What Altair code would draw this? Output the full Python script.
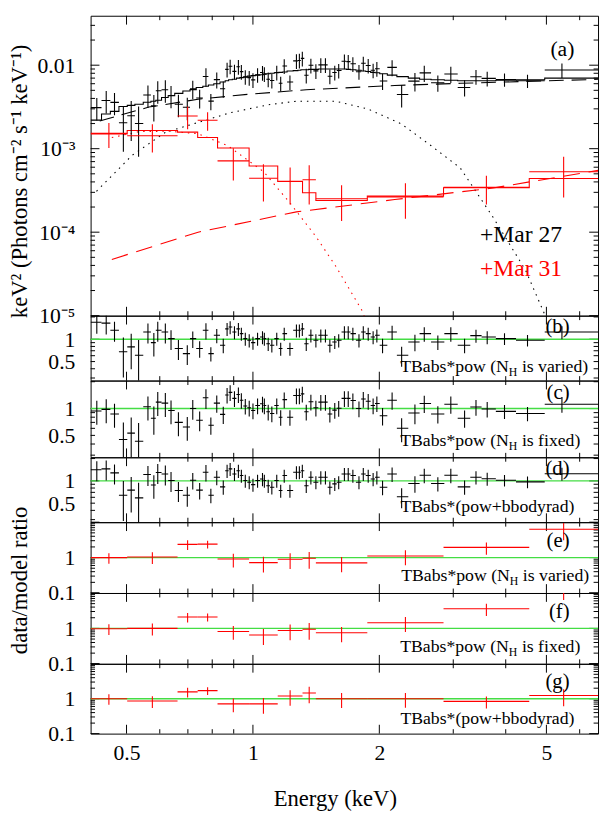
import math
import altair as alt
import pandas as pd

FONT = "'Liberation Serif', 'Times New Roman', Times, 'Nimbus Roman', serif"
XDOM = [0.4106, 6.636]
W = 516

# x ticks (keV)
XMAJ = [0.5, 1, 2, 5]
XMIN = [0.6, 0.7, 0.8, 0.9, 3, 4, 6]
XLAB = ["0.5", "1", "2", "5"]

# ---------------- Mar 27 (black) ----------------
bk_E = [0.4248, 0.4473, 0.4681, 0.4914, 0.5130, 0.5342, 0.5623, 0.5808, 0.5934, 0.6186,
        0.6382, 0.6646, 0.6977, 0.7190, 0.7467, 0.7729, 0.7940, 0.8201, 0.8499, 0.8679,
        0.8826, 0.9037, 0.9234, 0.9385, 0.9590, 0.9799, 1.0002, 1.0258, 1.0539, 1.0647,
        1.0874, 1.1093, 1.1396, 1.1645, 1.1873, 1.2250, 1.2694, 1.2901, 1.3111, 1.3397,
        1.3741, 1.4124, 1.4510, 1.4882, 1.5248, 1.5664, 1.6006, 1.6514, 1.6865, 1.7299,
        1.7887, 1.8316, 1.8817, 1.9331, 1.9731, 2.0358, 2.1452, 2.2604, 2.4312, 2.5590,
        2.7568, 2.9601, 3.1921, 3.3982, 3.6136, 3.9734, 4.5077, 5.4442]
bk_model = [2.2e-3, 2.6e-3, 2.8e-3, 3.2e-3, 3.3e-3, 3.4e-3, 3.6e-3, 3.7e-3, 3.8e-3, 4.1e-3,
            4.3e-3, 4.6e-3, 4.9e-3, 5.1e-3, 5.4e-3, 5.6e-3, 5.8e-3, 6.0e-3, 6.3e-3, 6.5e-3,
            6.7e-3, 6.8e-3, 7.0e-3, 7.1e-3, 7.2e-3, 7.4e-3, 7.5e-3, 7.6e-3, 7.7e-3, 7.8e-3,
            7.9e-3, 8.0e-3, 8.1e-3, 8.2e-3, 8.3e-3, 8.5e-3, 8.6e-3, 8.7e-3, 8.8e-3, 8.8e-3,
            8.9e-3, 8.9e-3, 9.0e-3, 9.0e-3, 9.0e-3, 9.0e-3, 9.0e-3, 9.0e-3, 8.9e-3, 8.8e-3,
            8.7e-3, 8.5e-3, 8.4e-3, 8.2e-3, 8.1e-3, 7.9e-3, 7.6e-3, 7.3e-3, 7.0e-3, 6.8e-3,
            6.7e-3, 6.6e-3, 6.5e-3, 6.5e-3, 6.5e-3, 6.6e-3, 6.7e-3, 7.0e-3]
bk_ratio_b = [1.70, 1.65, 1.32, 0.68, 0.79, 0.61, 1.25, 0.90, 1.32, 1.25,
              1.02, 0.75, 0.64, 1.02, 0.75, 1.32, 0.64, 1.13, 0.83, 1.38,
              1.46, 1.25, 1.38, 1.19, 1.02, 0.97, 0.90, 1.02, 1.07, 1.02,
              0.87, 0.83, 1.02, 0.75, 1.19, 0.75, 1.32, 1.32, 1.38, 0.87,
              1.13, 0.97, 1.13, 1.13, 0.83, 0.92, 0.97, 1.25, 1.25, 1.19,
              0.97, 1.25, 1.19, 1.07, 1.13, 0.83, 1.25, 0.61, 0.92, 1.19,
              0.92, 1.19, 0.83, 1.12, 1.07, 1.02, 0.97, 1.25]
bk_ratio_c = [0.94, 0.98, 0.87, 0.45, 0.53, 0.43, 1.05, 0.78, 1.18, 1.15,
              0.95, 0.70, 0.62, 1.00, 0.74, 1.32, 0.65, 1.15, 0.86, 1.42,
              1.52, 1.30, 1.44, 1.24, 1.07, 1.02, 0.95, 1.08, 1.13, 1.08,
              0.92, 0.88, 1.08, 0.80, 1.26, 0.80, 1.40, 1.40, 1.46, 0.92,
              1.19, 1.02, 1.18, 1.18, 0.87, 0.96, 1.01, 1.30, 1.30, 1.23,
              1.00, 1.28, 1.21, 1.08, 1.14, 0.83, 1.24, 0.60, 0.89, 1.14,
              0.87, 1.12, 0.78, 1.04, 0.99, 0.93, 0.88, 1.12]
bk_ratio_d = [1.41, 1.45, 1.28, 0.64, 0.75, 0.59, 1.22, 0.88, 1.30, 1.24,
              1.01, 0.74, 0.64, 1.02, 0.75, 1.31, 0.64, 1.12, 0.83, 1.37,
              1.45, 1.24, 1.37, 1.18, 1.01, 0.96, 0.89, 1.01, 1.06, 1.01,
              0.86, 0.82, 1.01, 0.74, 1.18, 0.74, 1.31, 1.31, 1.37, 0.86,
              1.12, 0.96, 1.12, 1.12, 0.82, 0.91, 0.96, 1.24, 1.24, 1.18,
              0.96, 1.24, 1.18, 1.06, 1.12, 0.82, 1.24, 0.61, 0.92, 1.19,
              0.92, 1.19, 0.83, 1.12, 1.07, 1.02, 0.97, 1.25]
bk_relerr = [0.30, 0.30, 0.30, 0.55, 0.50, 0.60, 0.30, 0.35, 0.30, 0.30,
             0.30, 0.30, 0.30, 0.25, 0.25, 0.25, 0.22, 0.22, 0.22, 0.20,
             0.20, 0.20, 0.20, 0.20, 0.20, 0.20, 0.20, 0.20, 0.20, 0.20,
             0.20, 0.20, 0.20, 0.20, 0.20, 0.20, 0.20, 0.20, 0.20, 0.20,
             0.20, 0.20, 0.20, 0.20, 0.20, 0.20, 0.20, 0.20, 0.20, 0.20,
             0.20, 0.20, 0.20, 0.20, 0.20, 0.22, 0.22, 0.30, 0.25, 0.22,
             0.22, 0.22, 0.22, 0.20, 0.20, 0.18, 0.18, 0.20]

# model components, Mar 27
bk_pow_E = [0.4317, 0.5653, 0.7403, 0.9694, 1.3397, 2.1766, 3.1186, 6.636]
bk_pow_F = [2.15e-3, 3.15e-3, 3.91e-3, 4.47e-3, 5.08e-3, 5.71e-3, 6.07e-3, 6.77e-3]
bk_bb_E = [0.4241, 0.5158, 0.6186, 0.8845, 1.0974, 1.2694, 1.575, 1.8817, 2.2568,
           2.6527, 3.1186, 3.732, 4.4595, 4.968, 5.158]
bk_bb_F = [3.09e-4, 8.34e-4, 1.57e-3, 2.70e-3, 3.38e-3, 3.70e-3, 3.70e-3, 2.98e-3, 1.98e-3,
           1.09e-3, 5.86e-4, 1.51e-4, 3.50e-5, 1.0e-5, 6.4e-6]

# ---------------- Mar 31 (red) ----------------
rd_edges = [0.4106, 0.5018, 0.6614, 0.7386, 0.8236, 0.9793, 1.1457, 1.3125, 1.4123,
            1.8725, 2.844, 4.551, 6.636]
rd_flux = [1.526e-3, 1.43e-3, 2.46e-3, 2.19e-3, 7.15e-4, 4.43e-4, 4.05e-4, 4.24e-4,
           2.51e-4, 2.65e-4, 3.44e-4, 5.3e-4]
rd_err = [5.1e-4, 5.3e-4, 7.5e-4, 5.5e-4, 3.0e-4, 2.1e-4, 1.9e-4, 2.1e-4, 1.15e-4,
          1.2e-4, 1.3e-4, 2.7e-4]
rd_model = [1.5e-3, 1.65e-3, 1.58e-3, 1.36e-3, 1.02e-3, 6.2e-4, 4.06e-4, 2.96e-4, 2.4e-4,
            2.7e-4, 3.4e-4, 4.4e-4]
rd_ratio_e = [1.0, 1.04, 2.36, 2.4, 0.91, 0.72, 0.9, 0.96, 0.71, 1.11, 1.94, 6.3]
rd_ratio_f = [0.98, 1.0, 2.1, 2.1, 0.82, 0.65, 0.87, 0.95, 0.75, 1.45, 3.6, 13.0]
rd_ratio_g = [1.0, 0.86, 1.57, 1.7, 0.71, 0.71, 1.19, 1.46, 1.0, 1.0, 0.84, 1.24]
rd_pow_E = [0.4613, 0.7403, 1.2694, 2.1766, 3.732, 6.636]
rd_pow_F = [4.72e-5, 1.0e-4, 1.75e-4, 2.46e-4, 3.38e-4, 5.5e-4]
rd_bb_E = [0.4613, 0.5356, 0.6297, 0.7403, 0.8703, 1.0607, 1.2243, 1.414, 1.575, 1.8189, 1.85]
rd_bb_F = [1.36e-3, 1.60e-3, 1.62e-3, 1.51e-3, 1.09e-3, 5.30e-4, 2.25e-4, 8.81e-5, 3.91e-5,
           1.15e-5, 9.3e-6]

# ---------------- axes definitions ----------------
A_DOM = [1e-5, 0.0391]
A_MAJ = [1e-5, 1e-4, 1e-3, 1e-2]
A_MIN = [2e-5, 3e-5, 4e-5, 5e-5, 6e-5, 7e-5, 8e-5, 9e-5,
         2e-4, 3e-4, 4e-4, 5e-4, 6e-4, 7e-4, 8e-4, 9e-4,
         2e-3, 3e-3, 4e-3, 5e-3, 6e-3, 7e-3, 8e-3, 9e-3, 2e-2, 3e-2]
A_LAB = ["10⁻⁵", "10⁻⁴", "10⁻³", "0.01"]

R1_DOM = [0.277, 2.08]
R1c_DOM = [0.284, 2.06]
R1_MAJ = [1]
R1_MIN = [0.3, 0.4, 0.5, 0.6, 0.7, 0.8, 0.9, 2]
R1_LV = [0.5, 1]
R1_LAB = ["0.5", "1"]

R2_DOM = [0.1, 10]
R2_MAJ = [0.1, 1, 10]
R2_MIN = [0.2, 0.3, 0.4, 0.5, 0.6, 0.7, 0.8, 0.9, 2, 3, 4, 5, 6, 7, 8, 9]
R2_LV = [0.1, 1]
R2_LAB = ["0.1", "1"]

BLACK = "#000000"
RED = "#ff0000"
GREEN = "#44dd44"

# ---------------- data frames ----------------
bk_mid = [math.sqrt(bk_E[i] * bk_E[i + 1]) for i in range(len(bk_E) - 1)]
bk = pd.DataFrame({
    "E": bk_E, "lo": [XDOM[0]] + bk_mid, "hi": bk_mid + [XDOM[1]],
    "model": bk_model, "rb": bk_ratio_b, "rc": bk_ratio_c, "rd": bk_ratio_d,
    "re": bk_relerr})
bk["flux"] = bk["rd"] * bk["model"]
bk["flux_lo"] = (bk["flux"] * (1 - bk["re"])).clip(lower=1e-7)
bk["flux_hi"] = bk["flux"] * (1 + bk["re"])
for r in ("rb", "rc", "rd"):
    bk[r + "_lo"] = (bk[r] * (1 - bk["re"])).clip(lower=0.01)
    bk[r + "_hi"] = bk[r] * (1 + bk["re"])

rd = pd.DataFrame({"lo": rd_edges[:-1], "hi": rd_edges[1:], "flux": rd_flux,
                   "err": rd_err, "model": rd_model, "re_": rd_ratio_e,
                   "rf": rd_ratio_f, "rg": rd_ratio_g})
rd["E"] = (rd["lo"] * rd["hi"]) ** 0.5
rd["flux_lo"] = (rd["flux"] - rd["err"]).clip(lower=1e-7)
rd["flux_hi"] = rd["flux"] + rd["err"]
rd["rel"] = rd["err"] / rd["flux"]
for r in ("re_", "rf", "rg"):
    rd[r + "_lo"] = (rd[r] * (1 - rd["rel"])).clip(lower=0.01)
    rd[r + "_hi"] = rd[r] * (1 + rd["rel"])

bk_step_x = list(bk["lo"]) + [XDOM[1]]
bk_step_y = bk_model + [bk_model[-1]]
rd_step_x = rd_edges
rd_step_y = rd_model + [rd_model[-1]]


def label_expr(vals, labs):
    expr = "'" + labs[-1] + "'"
    for v, l in reversed(list(zip(vals[:-1], labs[:-1]))):
        expr = "datum.value < " + repr(v * 1.5) + " ? '" + l + "' : (" + expr + ")"
    return expr


class P:
    """Holds the shared scales / axes of one panel."""

    def __init__(self, dom, lv, lab, H, ytitle=None, ytitle_y=0, xaxis=False):
        self.H = H
        self.xs = alt.Scale(type="log", domain=XDOM, nice=False)
        self.ys = alt.Scale(type="log", domain=dom, nice=False)
        ykw = dict(values=lv, labelExpr=label_expr(lv, lab), ticks=False, tickSize=0,
                   domain=False, grid=False, labelFontSize=22, labelPadding=16,
                   labelOverlap=False, labelFlush=False, labelFont=FONT, labelColor=BLACK)
        if ytitle:
            ykw.update(title=ytitle, titleX=-65, titleY=ytitle_y, titleAngle=270,
                       titleAlign="center", titleBaseline="alphabetic", titleFontSize=23,
                       titleFont=FONT, titleFontWeight="normal", titleColor=BLACK)
        else:
            ykw["title"] = None
        self.yax = alt.Axis(**ykw)
        if xaxis:
            self.xax = alt.Axis(values=XMAJ, labelExpr=label_expr(XMAJ, XLAB), ticks=False,
                                tickSize=0, domain=False, grid=False, labelFontSize=22,
                                labelPadding=26.5, labelBaseline="alphabetic",
                                labelFlush=False, labelOverlap=False, labelFont=FONT,
                                labelColor=BLACK, title="Energy (keV)", titleX=248.3,
                                titleY=73, titleAlign="center", titleBaseline="alphabetic",
                                titleFontSize=23, titleFont=FONT, titleFontWeight="normal",
                                titleColor=BLACK)
        else:
            self.xax = None

    def X(self, f):
        return alt.X(f + ":Q", scale=self.xs, axis=self.xax)

    def Y(self, f):
        return alt.Y(f + ":Q", scale=self.ys, axis=self.yax)


def crosses(p, df, xc, xl, xh, yc, yl, yh, color):
    h = alt.Chart(df).mark_rule(color=color, strokeWidth=1.1, clip=True).encode(
        x=p.X(xl), x2=xh + ":Q", y=p.Y(yc))
    v = alt.Chart(df).mark_rule(color=color, strokeWidth=1.1, clip=True).encode(
        x=p.X(xc), y=p.Y(yl), y2=yh + ":Q")
    return [h, v]


def line(p, E, F, color, dash, interp="linear", width=1.1):
    d = pd.DataFrame({"x": E, "y": F})
    kw = dict(color=color, strokeWidth=width, clip=True, interpolate=interp)
    if dash:
        kw["strokeDash"] = dash
    return alt.Chart(d).mark_line(**kw).encode(x=p.X("x"), y=p.Y("y"), order="x:Q")


def ticks(p, ymaj, ymin):
    out = []
    H = p.H
    for vals, L in ((XMAJ, 9), (XMIN, 4.5)):
        d = pd.DataFrame({"t": vals})
        for y1, y2 in ((0, L), (H - L, H)):
            out.append(alt.Chart(d).mark_rule(color=BLACK, strokeWidth=1).encode(
                x=p.X("t"), y=alt.value(y1), y2=alt.value(y2)))
    for vals, L in ((ymaj, 9), (ymin, 4.5)):
        d = pd.DataFrame({"t": vals})
        for x1, x2 in ((0, L), (W - L, W)):
            out.append(alt.Chart(d).mark_rule(color=BLACK, strokeWidth=1).encode(
                y=p.Y("t"), x=alt.value(x1), x2=alt.value(x2)))
    return out


def text(t, x, y, size, color=BLACK, align="right"):
    return alt.Chart(pd.DataFrame({"t": [t]})).mark_text(
        font=FONT, fontSize=size, color=color, align=align, baseline="alphabetic").encode(
        text="t:N", x=alt.value(x), y=alt.value(y))


def nh_label(tail, tail_w, xr, yb):
    hw = 8.7
    return [text(tail, xr, yb, 18),
            text("H", xr - tail_w, yb + 4, 12),
            text("TBabs*pow (N", xr - tail_w - hw, yb, 18)]


def green(p):
    d = pd.DataFrame({"a": [XDOM[0]], "b": [XDOM[1]], "one": [1.0]})
    return alt.Chart(d).mark_rule(color=GREEN, strokeWidth=1.4).encode(
        x=p.X("a"), x2="b:Q", y=p.Y("one"))


# ---------------- panel (a) ----------------
pa = P(A_DOM, A_MAJ, A_LAB, 305, "keV² (Photons cm⁻² s⁻¹ keV⁻¹)", 168)
layers_a = ticks(pa, A_MAJ, A_MIN)
layers_a += [
    line(pa, bk_pow_E, bk_pow_F, BLACK, [15, 8]),
    line(pa, bk_bb_E, bk_bb_F, BLACK, [1.5, 5]),
    line(pa, rd_pow_E, rd_pow_F, RED, [17, 9]),
    line(pa, rd_bb_E, rd_bb_F, RED, [1.5, 5]),
    line(pa, bk_step_x, bk_step_y, BLACK, None, "step-after"),
    line(pa, rd_step_x, rd_step_y, RED, None, "step-after"),
]
layers_a += crosses(pa, bk, "E", "lo", "hi", "flux", "flux_lo", "flux_hi", BLACK)
layers_a += crosses(pa, rd, "E", "lo", "hi", "flux", "flux_lo", "flux_hi", RED)
layers_a += [text("(a)", 492, 41, 22),
             text("+Mar 27", 396, 230, 24, BLACK, "left"),
             text("+Mar 31", 396, 265, 24, RED, "left")]
panel_a = alt.layer(*layers_a).properties(width=W, height=pa.H)


def ratio_panel(p, maj, mn, df, col, color, letter, letter_y, sub):
    L = ticks(p, maj, mn)
    L.append(green(p))
    L += crosses(p, df, "E", "lo", "hi", col, col + "_lo", col + "_hi", color)
    L.append(text(letter, 487, letter_y, 21))
    L += sub
    return alt.layer(*L).properties(width=W, height=p.H)


VAR_W = 72.0
FIX_W = 64.0

panel_b = ratio_panel(P(R1_DOM, R1_LV, R1_LAB, 66), R1_MAJ, R1_MIN, bk, "rb", BLACK, "(b)", 18,
                      nh_label(" is varied)", VAR_W, 506, 57))
panel_c = ratio_panel(P(R1c_DOM, R1_LV, R1_LAB, 78), R1_MAJ, R1_MIN, bk, "rc", BLACK, "(c)", 19,
                      nh_label(" is fixed)", FIX_W, 498, 67))
panel_d = ratio_panel(P(R1_DOM, R1_LV, R1_LAB, 66), R1_MAJ, R1_MIN, bk, "rd", BLACK, "(d)", 18,
                      [text("TBabs*(pow+bbodyrad)", 492, 56, 18)])
panel_e = ratio_panel(P(R2_DOM, R2_LV, R2_LAB, 72, "data/model ratio", 58.7), R2_MAJ, R2_MIN,
                      rd, "re_", RED, "(e)", 25, nh_label(" is varied)", VAR_W, 507, 60))
panel_f = ratio_panel(P(R2_DOM, R2_LV, R2_LAB, 72), R2_MAJ, R2_MIN, rd, "rf", RED, "(f)", 25,
                      nh_label(" is fixed)", FIX_W, 498, 60))
panel_g = ratio_panel(P(R2_DOM, R2_LV, R2_LAB, 71, xaxis=True), R2_MAJ, R2_MIN, rd, "rg", RED,
                      "(g)", 25, [text("TBabs*(pow+bbodyrad)", 492, 61, 18)])

chart = alt.vconcat(panel_a, panel_b, panel_c, panel_d, panel_e, panel_f, panel_g,
                    spacing=0, bounds="flush").properties(
    padding={"left": 0, "right": 0, "top": 0, "bottom": 4}
).configure_view(stroke=BLACK, strokeWidth=1)

chart.save("out.html", embed_options={"renderer": "svg", "actions": False})
